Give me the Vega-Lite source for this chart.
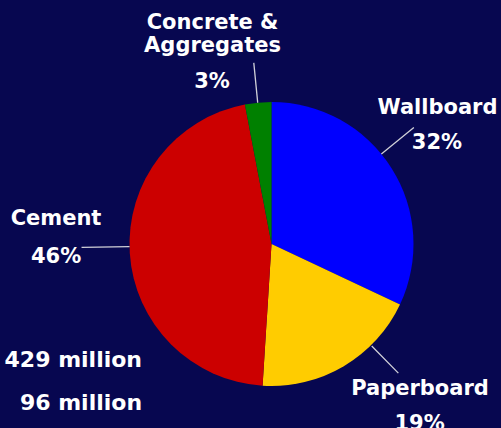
{
  "$schema": "https://vega.github.io/schema/vega-lite/v6.json",
  "width": 459,
  "height": 368,
  "autosize": {"type": "none"},
  "padding": {"left": 42, "top": 60, "right": 0, "bottom": 0},
  "background": "#070750",
  "config": {"view": {"stroke": null}},
  "datasets": {
    "shares": [
      {"category": "Wallboard", "label": "Wallboard", "share": 0.32, "rank": 1},
      {"category": "Paperboard", "label": "Paperboard", "share": 0.19, "rank": 2},
      {"category": "Cement", "label": "Cement", "share": 0.46, "rank": 3},
      {"category": "Concrete & Aggregates", "label": "Concrete &\nAggregates", "share": 0.03, "rank": 4}
    ],
    "totals": [
      {"total": "429 million"},
      {"total": "96 million"}
    ]
  },
  "data": {"name": "shares"},
  "layer": [
    {
      "mark": {"type": "arc", "outerRadius": 142},
      "encoding": {
        "theta": {"field": "share", "type": "quantitative", "stack": true},
        "order": {"field": "rank", "type": "quantitative"},
        "color": {
          "field": "category",
          "type": "nominal",
          "scale": {
            "domain": ["Wallboard", "Paperboard", "Cement", "Concrete & Aggregates"],
            "range": ["#0000ff", "#ffcc00", "#cc0000", "#008000"]
          },
          "legend": null
        }
      }
    },
    {
      "transform": [{"filter": "datum.category == 'Concrete & Aggregates'"}],
      "mark": {"type": "arc", "filled": false, "stroke": "#d0d0d8", "strokeWidth": 1.3, "innerRadius": 142, "outerRadius": 182},
      "encoding": {"theta": {"datum": 0.9845}, "theta2": {"datum": 0.9845}}
    },
    {
      "transform": [{"filter": "datum.category == 'Wallboard'"}],
      "mark": {"type": "arc", "filled": false, "stroke": "#d0d0d8", "strokeWidth": 1.3, "innerRadius": 142, "outerRadius": 184},
      "encoding": {"theta": {"datum": 0.1408}, "theta2": {"datum": 0.1408}}
    },
    {
      "transform": [{"filter": "datum.category == 'Cement'"}],
      "mark": {"type": "arc", "filled": false, "stroke": "#d0d0d8", "strokeWidth": 1.3, "innerRadius": 142, "outerRadius": 190},
      "encoding": {"theta": {"datum": 0.7471}, "theta2": {"datum": 0.7471}}
    },
    {
      "transform": [{"filter": "datum.category == 'Paperboard'"}],
      "mark": {"type": "arc", "filled": false, "stroke": "#d0d0d8", "strokeWidth": 1.3, "innerRadius": 143, "outerRadius": 181},
      "encoding": {"theta": {"datum": 0.3764}, "theta2": {"datum": 0.3764}}
    },
    {
      "transform": [{"filter": "datum.category == 'Concrete & Aggregates'"}],
      "mark": {"type": "text", "font": "DejaVu Sans", "fontWeight": "bold", "fontSize": 21, "color": "white", "align": "center", "baseline": "alphabetic", "lineBreak": "\n", "lineHeight": 23, "radius": 222.9},
      "encoding": {"theta": {"datum": 0.9574}, "text": {"field": "label"}}
    },
    {
      "transform": [{"filter": "datum.category == 'Concrete & Aggregates'"}],
      "mark": {"type": "text", "font": "DejaVu Sans", "fontWeight": "bold", "fontSize": 21, "color": "white", "align": "center", "baseline": "alphabetic", "radius": 167},
      "encoding": {"theta": {"datum": 0.942}, "text": {"field": "share", "format": ".0%"}}
    },
    {
      "transform": [{"filter": "datum.category == 'Wallboard'"}],
      "mark": {"type": "text", "font": "DejaVu Sans", "fontWeight": "bold", "fontSize": 21, "color": "white", "align": "center", "baseline": "alphabetic", "radius": 210.8},
      "encoding": {"theta": {"datum": 0.1443}, "text": {"field": "label"}}
    },
    {
      "transform": [{"filter": "datum.category == 'Wallboard'"}],
      "mark": {"type": "text", "font": "DejaVu Sans", "fontWeight": "bold", "fontSize": 21, "color": "white", "align": "center", "baseline": "alphabetic", "radius": 190.8},
      "encoding": {"theta": {"datum": 0.1671}, "text": {"field": "share", "format": ".0%"}}
    },
    {
      "transform": [{"filter": "datum.category == 'Cement'"}],
      "mark": {"type": "text", "font": "DejaVu Sans", "fontWeight": "bold", "fontSize": 21, "color": "white", "align": "center", "baseline": "alphabetic", "radius": 216.3},
      "encoding": {"theta": {"datum": 0.764}, "text": {"field": "label"}}
    },
    {
      "transform": [{"filter": "datum.category == 'Cement'"}],
      "mark": {"type": "text", "font": "DejaVu Sans", "fontWeight": "bold", "fontSize": 21, "color": "white", "align": "center", "baseline": "alphabetic", "radius": 216.3},
      "encoding": {"theta": {"datum": 0.736}, "text": {"field": "share", "format": ".0%"}}
    },
    {
      "transform": [{"filter": "datum.category == 'Paperboard'"}],
      "mark": {"type": "text", "font": "DejaVu Sans", "fontWeight": "bold", "fontSize": 21, "color": "white", "align": "center", "baseline": "alphabetic", "radius": 211.8},
      "encoding": {"theta": {"datum": 0.3763}, "text": {"field": "label"}}
    },
    {
      "transform": [{"filter": "datum.category == 'Paperboard'"}],
      "mark": {"type": "text", "font": "DejaVu Sans", "fontWeight": "bold", "fontSize": 21, "color": "white", "align": "center", "baseline": "alphabetic", "radius": 237.7},
      "encoding": {"theta": {"datum": 0.393}, "text": {"field": "share", "format": ".0%"}}
    },
    {
      "data": {"name": "totals"},
      "transform": [{"filter": "datum.total == '429 million'"}],
      "mark": {"type": "text", "font": "DejaVu Sans", "fontWeight": "bold", "fontSize": 22, "color": "white", "align": "right", "baseline": "alphabetic", "radius": 178.6},
      "encoding": {"theta": {"datum": 0.6291}, "text": {"field": "total"}}
    },
    {
      "data": {"name": "totals"},
      "transform": [{"filter": "datum.total == '96 million'"}],
      "mark": {"type": "text", "font": "DejaVu Sans", "fontWeight": "bold", "fontSize": 22, "color": "white", "align": "right", "baseline": "alphabetic", "radius": 210.5},
      "encoding": {"theta": {"datum": 0.6054}, "text": {"field": "total"}}
    }
  ]
}
